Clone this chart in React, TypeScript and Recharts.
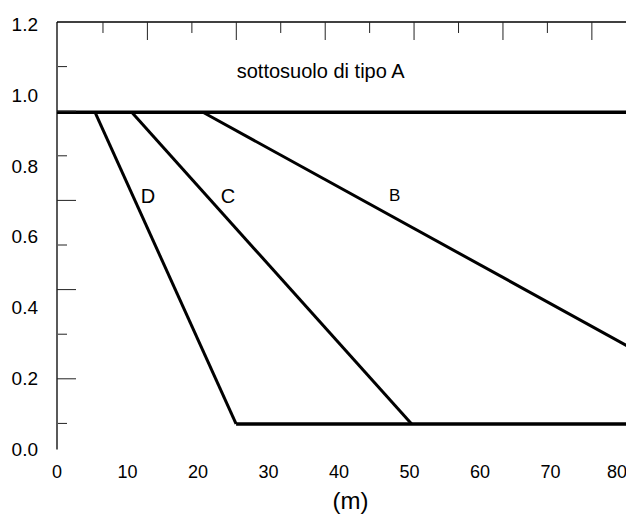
import { ComposedChart, Line, XAxis, YAxis, ReferenceDot, ReferenceLine, Label } from 'recharts';

// distances (m)
const xTicks = [0, 10, 20, 30, 40, 50, 60, 70, 80];
const yTicks = [0, 0.2, 0.4, 0.6, 0.8, 1.0, 1.2];
const yTop = 1.2056;

const curveNames = ['B', 'C', 'D'];
const curveStartX = [20.7, 10.6, 5.4];
const curveEndX = [101, 50.3, 25.4];
const topLevel = 0.951;
const bottomLevel = 0.072;
const plateauEndX = 120;

// frame tick marks (they follow their own spacing in the original)
const topMinorTickX = [6.52, 19.13, 31.73, 44.34, 56.95, 69.55];
const topMajorTickX = [12.82, 25.43, 38.04, 50.64, 63.25, 75.86];
const leftMinorTicks = [1, 3, 5, 7, 9];
const leftMajorTicks = [2, 4, 6, 8];

const annotationText = ['sottosuolo di tipo A', 'D', 'C', 'B'];
const annotationX = [37.4, 12.9, 24.25, 47.9];
const annotationY = [1.069, 0.716, 0.716, 0.717];

const FONT = '"Liberation Sans", Arial, sans-serif';

const topLine = [
    { x: 0, y: topLevel },
    { x: plateauEndX, y: topLevel },
];
const bottomLine = [
    { x: Math.min(...curveEndX), y: bottomLevel },
    { x: plateauEndX, y: bottomLevel },
];
const curves = curveNames.map((name, i) => ({
    name,
    data: [
        { x: curveStartX[i], y: topLevel },
        { x: curveEndX[i], y: bottomLevel },
    ],
}));

const blank = () => '';

export default function App() {
    return (
        <div style={{ position: 'absolute', left: 0, top: 0, width: 626, height: 516, overflow: 'hidden', background: '#fff' }}>
            <ComposedChart width={626} height={516} margin={{ top: 22, right: 0, bottom: 0, left: 0 }}>
                <XAxis
                    xAxisId="m"
                    type="number"
                    dataKey="x"
                    domain={[0, 80.7]}
                    ticks={xTicks}
                    allowDataOverflow
                    height={66.5}
                    axisLine={false}
                    tickLine={false}
                    tickSize={14}
                    tickMargin={2}
                    tick={{ fontSize: 18, fill: '#000', fontFamily: FONT }}
                >
                    <Label value="(m)" position="insideBottom" offset={7} dx={9} fontSize={24} fill="#000" fontFamily={FONT} />
                </XAxis>
                <YAxis
                    yAxisId="m"
                    type="number"
                    domain={[0, yTop]}
                    ticks={yTicks}
                    allowDataOverflow
                    width={57}
                    axisLine={{ stroke: '#000', strokeWidth: 1.3 }}
                    tickLine={false}
                    tickSize={16}
                    tickMargin={3}
                    tickFormatter={(v: number) => v.toFixed(1)}
                    tick={{ fontSize: 19, fill: '#000', fontFamily: FONT }}
                />
                <YAxis
                    yAxisId="frameMinor"
                    type="number"
                    mirror
                    reversed
                    width={1}
                    domain={[0, 9.585]}
                    ticks={leftMinorTicks}
                    allowDataOverflow
                    axisLine={false}
                    tickLine={{ stroke: '#222', strokeWidth: 1 }}
                    tickSize={9}
                    tickFormatter={blank}
                />
                <YAxis
                    yAxisId="frameMajor"
                    type="number"
                    mirror
                    reversed
                    width={1}
                    domain={[0, 9.585]}
                    ticks={leftMajorTicks}
                    allowDataOverflow
                    axisLine={false}
                    tickLine={{ stroke: '#222', strokeWidth: 1 }}
                    tickSize={19}
                    tickFormatter={blank}
                />

                {/* top frame line and its inward tick marks */}
                <ReferenceLine xAxisId="m" yAxisId="m" y={yTop} stroke="#000" strokeWidth={1.3} />
                {topMinorTickX.map((x) => (
                    <ReferenceLine
                        key={`tm-${x}`}
                        xAxisId="m"
                        yAxisId="m"
                        segment={[{ x, y: yTop }, { x, y: yTop - 0.031 }]}
                        stroke="#222"
                        strokeWidth={1}
                    />
                ))}
                {topMajorTickX.map((x) => (
                    <ReferenceLine
                        key={`tM-${x}`}
                        xAxisId="m"
                        yAxisId="m"
                        segment={[{ x, y: yTop }, { x, y: yTop - 0.0508 }]}
                        stroke="#222"
                        strokeWidth={1}
                    />
                ))}

                <Line xAxisId="m" yAxisId="m" data={topLine} dataKey="y" stroke="#000" strokeWidth={3.5} dot={false} isAnimationActive={false} />
                <Line xAxisId="m" yAxisId="m" data={bottomLine} dataKey="y" stroke="#000" strokeWidth={3.5} dot={false} isAnimationActive={false} />
                {curves.map((c) => (
                    <Line
                        key={c.name}
                        xAxisId="m"
                        yAxisId="m"
                        data={c.data}
                        dataKey="y"
                        name={c.name}
                        stroke="#000"
                        strokeWidth={3}
                        dot={false}
                        isAnimationActive={false}
                    />
                ))}

                {annotationText.map((t, i) => (
                    <ReferenceDot
                        key={t}
                        xAxisId="m"
                        yAxisId="m"
                        x={annotationX[i]}
                        y={annotationY[i]}
                        r={1}
                        fill="none"
                        stroke="none"
                        label={{ value: t, position: 'center', fontSize: t === 'B' ? 17 : 20, fill: '#000', fontFamily: FONT }}
                    />
                ))}
            </ComposedChart>
        </div>
    );
}
